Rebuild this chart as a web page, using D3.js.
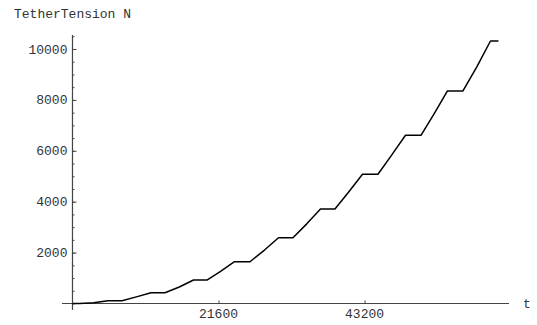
<!DOCTYPE html>
<html><head><meta charset="utf-8">
<script src="https://cdn.jsdelivr.net/npm/d3@7"></script>
<style>body{margin:0;background:#fff}svg{display:block}
text{font-family:"Liberation Mono",Courier,monospace;font-size:13px;fill:#333}</style>
</head><body>
<script>
// time (s) and tether tension (N)
const times = [0, 1020, 3150, 5250, 7320, 9450, 11610, 13680, 15800, 17900, 19890, 21900, 23960, 26250, 28400, 30470, 32610, 34650, 36680, 38820, 40850, 42890, 45180, 47200, 49250, 51540, 53500, 55460, 57750, 59800, 61820, 63000];
const tension = [0, 0, 28, 110, 110, 260, 424, 424, 650, 923, 923, 1260, 1642, 1642, 2100, 2585, 2585, 3130, 3713, 3713, 4380, 5077, 5077, 5830, 6609, 6609, 7460, 8350, 8350, 9300, 10314, 10314];
const xTickValues = [21600, 43200];
const yTickValues = [2000, 4000, 6000, 8000, 10000];
const yMinorValues = d3.range(0, 10501, 500);
const yTitle = "TetherTension N";
const xTitle = "t";

const W = 537, H = 325;
const svg = d3.select("body").append("svg").attr("width", W).attr("height", H);
const x = d3.scaleLinear().domain([-1550, 64560]).range([62, 509]);
const y = d3.scaleLinear().domain([-255, 10550]).range([310, 35]);
const axisColor = "#444";

// y axis
const gy = svg.append("g").attr("transform", `translate(${x(0)},0)`);
gy.call(d3.axisRight(y).tickValues(yMinorValues).tickSize(2).tickFormat(""));
gy.select(".domain").remove();
gy.selectAll("line").attr("stroke", axisColor);
const gy2 = svg.append("g").attr("transform", `translate(${x(0)},0)`);
gy2.call(d3.axisRight(y).tickValues(yTickValues).tickSize(4).tickFormat(""));
gy2.select(".domain").remove();
gy2.selectAll("line").attr("stroke", axisColor);
svg.append("line").attr("x1", x(0)).attr("x2", x(0)).attr("y1", 35).attr("y2", 310)
  .attr("stroke", axisColor).attr("stroke-width", 1.2);
svg.append("g").selectAll("text").data(yTickValues).join("text")
  .attr("x", x(0) - 5).attr("y", d => y(d)).attr("dy", "0.35em")
  .attr("text-anchor", "end").text(d => d);

// x axis
const gx = svg.append("g").attr("transform", `translate(0,${y(0)})`);
gx.call(d3.axisTop(x).tickValues(xTickValues).tickSize(3).tickFormat(""));
gx.select(".domain").remove();
gx.selectAll("line").attr("stroke", axisColor);
svg.append("line").attr("x1", 62).attr("x2", 509).attr("y1", y(0)).attr("y2", y(0))
  .attr("stroke", axisColor).attr("stroke-width", 1.2);
svg.append("g").selectAll("text").data(xTickValues).join("text")
  .attr("x", d => x(d)).attr("y", y(0) + 14)
  .attr("text-anchor", "middle").text(d => d);

svg.append("text").attr("x", 14).attr("y", 18).text(yTitle);
svg.append("text").attr("x", 523).attr("y", y(0) + 4).text(xTitle);

// curve
const line = d3.line().x((d, i) => x(times[i])).y(d => y(d));
svg.append("path").datum(tension).attr("d", line).attr("fill", "none")
  .attr("stroke", "#000").attr("stroke-width", 1.5).attr("stroke-linejoin", "round");
</script>
</body></html>
